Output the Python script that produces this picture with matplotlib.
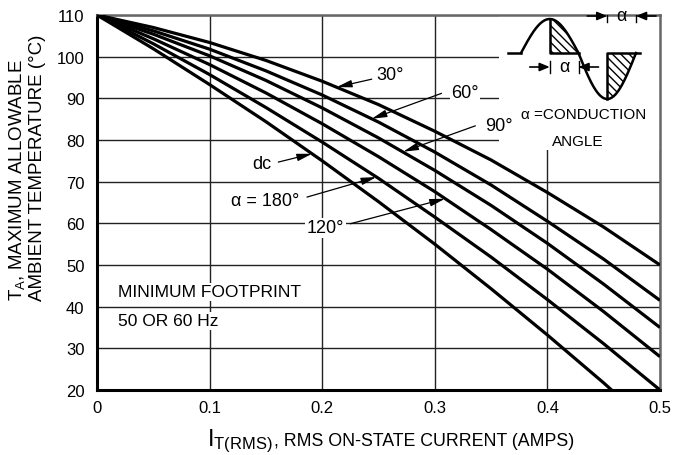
import numpy as np
import matplotlib
matplotlib.use("Agg")
import matplotlib.pyplot as plt
from matplotlib.patches import Rectangle

FONT = "Liberation Sans"
plt.rcParams["font.family"] = [FONT, "DejaVu Sans"]
plt.rcParams["mathtext.fontset"] = "custom"
plt.rcParams["mathtext.rm"] = FONT
plt.rcParams["mathtext.it"] = FONT

# data
current = [0, 0.05, 0.1, 0.15, 0.2, 0.25, 0.3, 0.35, 0.4, 0.45, 0.5]
temp_30 = [110, 107.0, 103.4, 99.1, 94.1, 88.5, 82.1, 75.2, 67.4, 59.1, 50.0]
temp_60 = [110, 106.2, 101.8, 96.6, 90.8, 84.3, 77.1, 69.2, 60.5, 51.4, 41.5]
temp_90 = [110, 105.4, 100.2, 94.3, 87.7, 80.5, 72.7, 64.3, 55.2, 45.4, 35.0]
temp_120 = [110, 104.3, 98.1, 91.3, 83.9, 76.0, 67.6, 58.5, 49.0, 38.8, 28.0]
temp_180 = [110, 103.1, 95.7, 87.8, 79.5, 70.8, 61.5, 51.9, 41.7, 31.1, 20.0]
current_dc = [0, 0.05, 0.1, 0.15, 0.2, 0.25, 0.3, 0.35, 0.4, 0.45, 0.457]
temp_dc = [110, 101.9, 93.3, 84.4, 75.0, 65.2, 55.0, 44.3, 33.2, 21.7, 20.0]

x_ticks = [0, 0.1, 0.2, 0.3, 0.4, 0.5]
x_tick_labels = ["0", "0.1", "0.2", "0.3", "0.4", "0.5"]
y_ticks = [20, 30, 40, 50, 60, 70, 80, 90, 100, 110]

W, H = 676, 456
fig = plt.figure(figsize=(W / 100, H / 100), dpi=100)
ax = fig.add_axes([97 / W, 1 - 391 / H, 563 / W, 375 / H])

for y in [temp_30, temp_60, temp_90, temp_120, temp_180]:
    ax.plot(current, y, color="black", lw=2.3, solid_capstyle="butt", zorder=3)
ax.plot(current_dc, temp_dc, color="black", lw=2.3, solid_capstyle="butt", zorder=3)

ax.set_xlim(0, 0.5)
ax.set_ylim(20, 110)
ax.set_xticks(x_ticks)
ax.set_xticklabels(x_tick_labels)
ax.set_yticks(y_ticks)
ax.tick_params(length=0, labelsize=12, colors="black")
ax.tick_params(axis="y", pad=9)
ax.tick_params(axis="x", pad=7)
ax.grid(True, color="#222222", lw=1.0)
ax.set_axisbelow(True)

for s in ["left", "bottom"]:
    ax.spines[s].set_linewidth(2.2)
    ax.spines[s].set_color("black")
for s in ["top", "right"]:
    ax.spines[s].set_linewidth(1.8)
    ax.spines[s].set_color("#666666")

# x label: big I with subscript, then the rest
renderer = fig.canvas.get_renderer()
t1 = fig.text(207 / W, 1 - 446 / H, r"I$_{\mathrm{T(RMS)}}$", fontsize=17, ha="left", va="baseline")
bb = t1.get_window_extent(renderer)
fig.text(bb.x1 / W + 1 / W, 1 - 446 / H, ", RMS ON-STATE CURRENT (AMPS)", fontsize=12.8,
         ha="left", va="baseline")

# y label, two rotated lines
fig.text(17 / W, 1 - 180 / H, r"T$_{\mathrm{A}}$, MAXIMUM ALLOWABLE", fontsize=13.5,
         rotation=90, ha="center", va="center")
fig.text(38 / W, 1 - 168 / H, "AMBIENT TEMPERATURE (°C)", fontsize=13.5,
         rotation=90, ha="center", va="center")

# curve labels
box = dict(facecolor="white", edgecolor="none", pad=1)
arrow = dict(arrowstyle="-|>,head_length=0.9,head_width=0.22", color="black", lw=0.9,
             shrinkA=0, shrinkB=0)
labels = [
    ("30°", (0.260, 95.6), (0.244, 94.6), (0.213, 92.7)),
    ("60°", (0.327, 91.5), (0.306, 91.2), (0.244, 85.1)),
    ("90°", (0.357, 83.4), (0.336, 83.4), (0.272, 77.2)),
    ("dc", (0.1465, 74.3), (0.161, 74.7), (0.191, 76.7)),
    ("α = 180°", (0.149, 65.4), (0.1865, 66.3), (0.248, 71.1)),
    ("120°", (0.203, 58.9), (0.225, 59.9), (0.309, 65.9)),
]
for txt, pos, tail, tip in labels:
    ax.annotate("", xy=tip, xytext=tail, arrowprops=arrow, zorder=4)
    ax.text(pos[0], pos[1], txt, ha="center", va="center", fontsize=13, bbox=box, zorder=5)

ax.text(0.019, 43.6, "MINIMUM FOOTPRINT", ha="left", va="center", fontsize=12.5, bbox=box, zorder=5)
ax.text(0.019, 36.6, "50 OR 60 Hz", ha="left", va="center", fontsize=12.5, bbox=box, zorder=5)

# white area behind the waveform sketch
ax.add_patch(Rectangle((0.357, 77.7), 0.143, 32.3, facecolor="white", edgecolor="none", zorder=1))

# waveform sketch, pixel-like coordinates
ins = fig.add_axes([500 / W, 1 - 152 / H, 160 / W, 136 / H])
ins.set_xlim(500, 660)
ins.set_ylim(152, 16)
ins.axis("off")
ins.patch.set_alpha(0)

t = np.linspace(0, 2 * np.pi, 200)
wx = 521 + t / (2 * np.pi) * 115
wy = np.where(t < np.pi, 54 - 34 * np.sin(t), 54 - 46 * np.sin(t))
ins.plot([508, 521], [54, 54], color="black", lw=1.8)
ins.plot(wx, wy, color="black", lw=1.8)
m1 = (t >= np.pi / 2) & (t <= np.pi)
ins.fill_between(wx[m1], wy[m1], 54, facecolor="white", edgecolor="black", hatch="\\\\\\\\", lw=0)
ins.plot([wx[m1][0], wx[m1][0], 578.5], [20, 54, 54], color="black", lw=1.8)
m2 = t >= 1.5 * np.pi
ins.fill_between(wx[m2], wy[m2], 54, facecolor="white", edgecolor="black", hatch="\\\\\\\\", lw=0)
ins.plot([607.25, 607.25, 640], [100, 54, 54], color="black", lw=1.8)

sa = dict(arrowstyle="-|>,head_length=0.6,head_width=0.25", color="black", lw=1.2, shrinkA=0, shrinkB=0)
for xa, xb, yy in [(549.75, 578.5, 68), (607.25, 636, 17)]:
    ins.plot([xa, xa], [yy - 6, yy + 6], color="black", lw=1.0)
    ins.plot([xb, xb], [yy - 6, yy + 6], color="black", lw=1.0)
    ins.annotate("", xy=(xa, yy), xytext=(xa - 20, yy), arrowprops=sa, annotation_clip=False)
    ins.annotate("", xy=(xb, yy), xytext=(xb + 20, yy), arrowprops=sa, annotation_clip=False)
    ins.text((xa + xb) / 2, yy, "α", ha="center", va="center", fontsize=13)
ins.text(584, 115, "α =CONDUCTION", ha="center", va="center", fontsize=11)
ins.text(578, 142, "ANGLE", ha="center", va="center", fontsize=11)

fig.savefig("out.png", dpi=100)
